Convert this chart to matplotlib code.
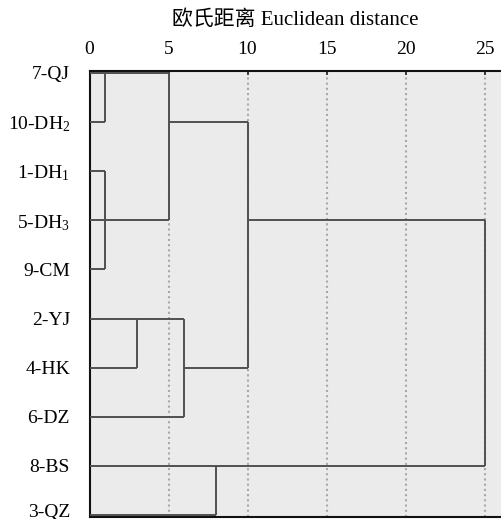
import math
import matplotlib
matplotlib.use("Agg")
import matplotlib.pyplot as plt
import matplotlib.transforms as mtransforms

# leaves, top to bottom
LEAVES = ["7-QJ", "10-DH$_2$", "1-DH$_1$", "5-DH$_3$", "9-CM",
          "2-YJ", "4-HK", "6-DZ", "8-BS", "3-QZ"]

# merges (scipy-style ids: 0..9 leaves, 10.. new clusters)
MERGE_A = [0, 2, 11, 10, 5, 14, 13, 8, 16]
MERGE_B = [1, 3, 4, 12, 6, 7, 15, 9, 17]
MERGE_DIST = [1.0, 1.0, 1.0, 5.0, 3.0, 6.0, 10.0, 8.0, 25.0]

XTICKS = [0, 5, 10, 15, 20, 25]
XLABEL = "欧氏距离 Euclidean distance"

LINE_COLOR = "#505050"
BG_COLOR = "#ebebeb"
GRID_COLOR = "#a8a8a8"

plt.rcParams["font.family"] = ["Liberation Serif", "Noto Sans CJK SC"]
plt.rcParams["mathtext.fontset"] = "custom"
plt.rcParams["mathtext.rm"] = "Liberation Serif"
plt.rcParams["mathtext.it"] = "Liberation Serif"


def main():
    fig = plt.figure(figsize=(5.01, 5.19), dpi=100)
    ax = fig.add_axes([89.5 / 501, 2 / 519, 1 - 89.5 / 501, (517 - 71) / 519])
    ax.set_facecolor(BG_COLOR)

    row = {i: i for i in range(len(LEAVES))}
    height = {i: 0.0 for i in range(len(LEAVES))}

    for k, (a, b, d) in enumerate(zip(MERGE_A, MERGE_B, MERGE_DIST)):
        for c in (a, b):
            ax.plot([height[c], d], [row[c], row[c]], color=LINE_COLOR,
                    lw=1.4, solid_capstyle="butt", zorder=3)
        ax.plot([d, d], [row[a], row[b]], color=LINE_COLOR,
                lw=1.4, solid_capstyle="butt", zorder=3)
        nid = len(LEAVES) + k
        row[nid] = math.floor((row[a] + row[b]) / 2)
        height[nid] = d

    for x in XTICKS[1:]:
        ax.axvline(x, color=GRID_COLOR, lw=1.5, ls=(0, (1, 1.5)), zorder=1)

    ax.set_xlim(0, (501 - 89.5) / 15.8)
    ax.set_ylim(len(LEAVES) - 1 + 0.04, -0.04)

    ax.xaxis.tick_top()
    ax.xaxis.set_label_position("top")
    ax.set_xticks(XTICKS)
    ax.set_xticklabels([str(t) for t in XTICKS])
    ax.tick_params(axis="x", direction="in", length=3, width=1.2,
                   labelsize=14, pad=9, color="#222222")
    ax.set_xlabel(XLABEL, fontsize=15, labelpad=12)

    ax.set_yticks(range(len(LEAVES)))
    ax.set_yticklabels(LEAVES)
    ax.tick_params(axis="y", length=0, labelsize=14, pad=14)

    # keep the last leaf label inside the figure
    last = ax.get_yticklabels()[-1]
    last.set_transform(last.get_transform() +
                       mtransforms.ScaledTranslation(0, 5 / 100, fig.dpi_scale_trans))

    for s in ("top", "left", "bottom"):
        ax.spines[s].set_linewidth(1.5)
        ax.spines[s].set_color("#111111")
    ax.spines["right"].set_visible(False)

    fig.savefig("out.png", dpi=100, facecolor="white")


if __name__ == "__main__":
    main()
